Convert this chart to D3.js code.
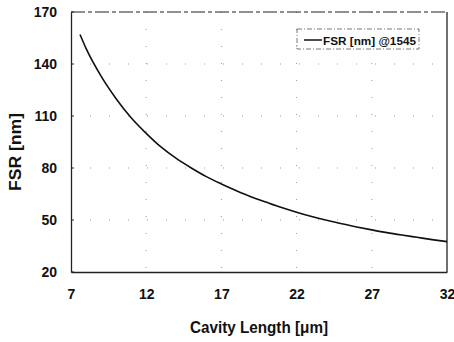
<!DOCTYPE html>
<html><head><meta charset="utf-8">
<script src="https://cdn.jsdelivr.net/npm/d3@7"></script>
<style>body{margin:0;background:#fff}svg{display:block}text{font-family:"Liberation Sans",Arial,sans-serif;fill:#111}</style>
</head><body><svg id="c" width="454" height="342"></svg>
<script>
const cavityLength = [7.6, 8, 9, 10, 11, 12, 13, 14, 15, 16, 17, 18, 19, 20, 21, 22, 23, 24, 25, 26, 27, 28, 29, 30, 31, 32];
const fsr = [157, 149, 133, 120, 109, 100, 92, 85.5, 80, 75, 70.8, 66.9, 63.3, 60.2, 57.2, 54.5, 52, 49.8, 47.8, 46, 44.3, 42.7, 41.3, 40, 38.7, 37.5];
const xTicks = [7, 12, 17, 22, 27, 32];
const yTicks = [20, 50, 80, 110, 140, 170];
const legendLabel = "FSR [nm] @1545";

const svg = d3.select("#c");
const m = {l:71, r:447, t:12, b:272};
const x = d3.scaleLinear().domain([7, 32]).range([m.l, m.r]);
const y = d3.scaleLinear().domain([20, 170]).range([m.b, m.t]);

// sparse dotted gridlines
const g = svg.append("g");
g.selectAll("line.vx").data(xTicks.slice(1, -1)).join("line")
  .attr("x1", d => x(d)).attr("x2", d => x(d)).attr("y1", m.t).attr("y2", m.b)
  .attr("stroke", "#999").attr("stroke-width", 1).attr("stroke-dasharray", "1,16");
g.selectAll("line.hy").data(yTicks.slice(1, -1)).join("line")
  .attr("x1", m.l).attr("x2", m.r).attr("y1", d => y(d)).attr("y2", d => y(d))
  .attr("stroke", "#999").attr("stroke-width", 1).attr("stroke-dasharray", "1,18");

// axes
const xAxis = svg.append("g").attr("transform", `translate(0,${m.b})`)
  .call(d3.axisBottom(x).tickValues(xTicks).tickSize(0).tickPadding(17));
const yAxis = svg.append("g").attr("transform", `translate(${m.l},0)`)
  .call(d3.axisLeft(y).tickValues(yTicks).tickSize(0).tickPadding(14));
[xAxis, yAxis].forEach(a => {
  a.select(".domain").attr("stroke", "#222").attr("stroke-width", 1.3);
  a.selectAll("text").attr("font-size", 14).attr("font-weight", "bold").attr("fill", "#111")
    .attr("font-family", '"Liberation Sans",Arial,sans-serif');
});
// small tick marks on y axis
svg.append("g").selectAll("line").data(yTicks).join("line")
  .attr("x1", m.l).attr("x2", m.l + 3).attr("y1", d => y(d)).attr("y2", d => y(d))
  .attr("stroke", "#222");

// frame top & right
svg.append("line").attr("x1", m.l).attr("x2", m.r).attr("y1", m.t).attr("y2", m.t)
  .attr("stroke", "#222").attr("stroke-width", 1.2).attr("stroke-dasharray", "14,3,4,3");
svg.append("line").attr("x1", m.r).attr("x2", m.r).attr("y1", m.t).attr("y2", m.b)
  .attr("stroke", "#222").attr("stroke-width", 1.3);

// curve
const line = d3.line().x((d, i) => x(cavityLength[i])).y(d => y(d)).curve(d3.curveMonotoneX);
svg.append("path").datum(fsr).attr("d", line)
  .attr("fill", "none").attr("stroke", "#111").attr("stroke-width", 1.6);

// legend
const lg = svg.append("g");
lg.append("rect").attr("x", 297).attr("y", 29).attr("width", 122).attr("height", 20)
  .attr("fill", "#fff").attr("stroke", "#555").attr("stroke-width", 0.8).attr("stroke-dasharray", "5,2,1,2");
lg.append("line").attr("x1", 304).attr("x2", 322).attr("y1", 40).attr("y2", 40)
  .attr("stroke", "#111").attr("stroke-width", 1.5);
lg.append("text").attr("x", 323).attr("y", 44.5).attr("font-size", 11.5).attr("font-weight", "bold")
  .attr("textLength", 93).attr("lengthAdjust", "spacingAndGlyphs").text(legendLabel);

// titles
svg.append("text").attr("x", 259).attr("y", 333).attr("text-anchor", "middle")
  .attr("font-size", 16).attr("font-weight", "bold")
  .attr("textLength", 138).attr("lengthAdjust", "spacingAndGlyphs").text("Cavity Length [\u03bcm]");
svg.append("text").attr("transform", "translate(21,152) rotate(-90)").attr("text-anchor", "middle")
  .attr("font-size", 16).attr("font-weight", "bold")
  .attr("textLength", 78).attr("lengthAdjust", "spacingAndGlyphs").text("FSR [nm]");
</script></body></html>
